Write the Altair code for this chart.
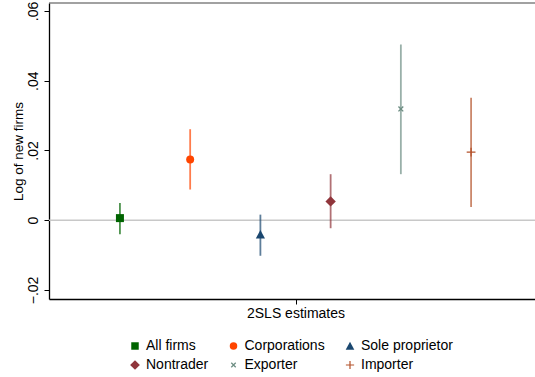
import altair as alt
import pandas as pd

# ---- data ----
groups = ["All firms", "Corporations", "Sole proprietor", "Nontrader", "Exporter", "Importer"]
positions = [1, 2, 3, 4, 5, 6]
estimates = [0.0006, 0.0174, -0.0041, 0.0054, 0.0319, 0.0195]
ci_low = [-0.0040, 0.0088, -0.0102, -0.0023, 0.0132, 0.0038]
ci_high = [0.0049, 0.0261, 0.0016, 0.0132, 0.0504, 0.0351]
y_ticks = [-0.02, 0, 0.02, 0.04, 0.06]
x_label = "2SLS estimates"
y_title = "Log of new firms"

# ---- styles ----
colors = ["#006400", "#ff4500", "#1a476f", "#90353b", "#6e8e84", "#b4522b"]
tri = "M0,-1.15L1.15,1L-1.15,1Z"
diamond = "M-1.3,0L0,-1.3L1.3,0L0,1.3Z"
xmark = ("M0,-0.24L0.48,-0.72L0.72,-0.48L0.24,0L0.72,0.48L0.48,0.72L0,0.24"
         "L-0.48,0.72L-0.72,0.48L-0.24,0L-0.72,-0.48L-0.48,-0.72Z")
plus = ("M-1.1,-0.16L-0.16,-0.16L-0.16,-1.1L0.16,-1.1L0.16,-0.16L1.1,-0.16L1.1,0.16"
        "L0.16,0.16L0.16,1.1L-0.16,1.1L-0.16,0.16L-1.1,0.16Z")
shapes = ["square", "circle", tri, diamond, xmark, plus]

df = pd.DataFrame({"group": groups, "pos": positions, "est": estimates,
                   "lo": ci_low, "hi": ci_high})

W, H = 486, 296
xscale = alt.Scale(domain=[-0.01, 6.91], nice=False, zero=False)
yscale = alt.Scale(domain=[-0.0226, 0.0623], nice=False, zero=False)
cscale = alt.Scale(domain=groups, range=colors)
sscale = alt.Scale(domain=groups, range=shapes)

xaxis = alt.Axis(values=[3.5], labelExpr=f"'{x_label}'", title=None, grid=False,
                 tickSize=5, labelFontSize=14, labelPadding=2, labelColor="black",
                 domainColor="black", tickColor="black", domainWidth=1.3, tickWidth=1)
yaxis = alt.Axis(values=y_ticks, grid=False, tickSize=5, title=y_title,
                 labelExpr="datum.value == 0 ? '0' : replace(format(datum.value, '.2f'), '0.', '.')",
                 labelAngle=270, labelAlign="center", labelBaseline="alphabetic",
                 labelPadding=6.5, labelFontSize=14, labelColor="black",
                 titleAngle=270, titleAlign="center", titleBaseline="alphabetic",
                 titleX=-27, titleY=148, titleFontSize=13.5, titleFontWeight="normal",
                 titleColor="black", domainColor="black", tickColor="black",
                 domainWidth=1.3, tickWidth=1)

base = alt.Chart(df)

zero = alt.Chart(pd.DataFrame({"z": [0]})).mark_rule(color="#c8c8c8", strokeWidth=1.6).encode(
    y=alt.Y("z:Q", scale=yscale, axis=yaxis)
)

top = alt.Chart(pd.DataFrame({"z": [0]})).mark_rule(color="#444444", strokeWidth=1.2).encode(
    y=alt.value(0), x=alt.value(0), x2=alt.value(W)
)

legend = alt.Legend(title=None)

rules = base.mark_rule(strokeWidth=1.8, opacity=0.7).encode(
    x=alt.X("pos:Q", scale=xscale, axis=xaxis),
    y=alt.Y("lo:Q", scale=yscale, axis=yaxis),
    y2="hi:Q",
    color=alt.Color("group:N", scale=cscale, sort=groups, legend=legend),
)

points = base.mark_point(filled=True, opacity=1, size=64, strokeWidth=0).encode(
    x=alt.X("pos:Q", scale=xscale, axis=xaxis),
    y=alt.Y("est:Q", scale=yscale, axis=yaxis),
    color=alt.Color("group:N", scale=cscale, sort=groups, legend=legend),
    shape=alt.Shape("group:N", scale=sscale, sort=groups, legend=legend),
)

chart = alt.layer(zero, top, rules, points).properties(
    width=W, height=H,
    autosize=alt.AutoSizeParams(type="none"),
    padding={"left": 49, "top": 3, "right": 0, "bottom": 74},
).configure(
    font="Liberation Sans",
).configure_view(
    stroke=None,
).configure_legend(
    orient="none", legendX=79, legendY=336, columns=3, columnPadding=17.5,
    direction="horizontal",
    rowPadding=5, labelFontSize=14, labelColor="black", symbolSize=56,
    labelOffset=4, padding=0, symbolStrokeWidth=0, symbolOpacity=1,
)

chart.save("out.html", embed_options={"renderer": "svg", "actions": False})
